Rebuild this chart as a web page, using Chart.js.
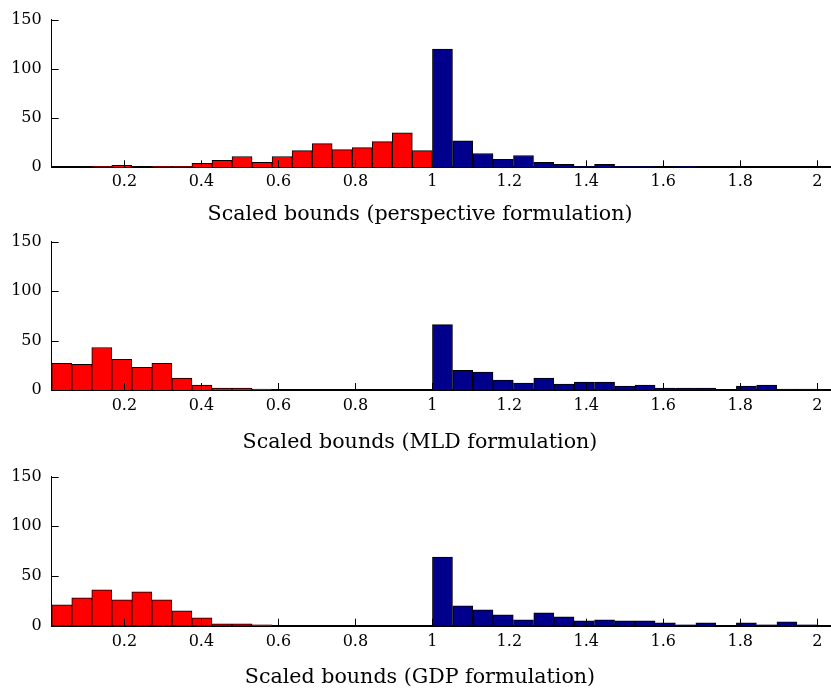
<!DOCTYPE html>
<html><head><meta charset="utf-8">
<script src="https://cdn.jsdelivr.net/npm/chart.js@4"></script>
<style>
html,body{margin:0;padding:0;background:#fff;}
#wrap{position:relative;width:831px;height:695px;overflow:hidden;}
canvas{position:absolute;left:0;}
</style></head><body><div id="wrap">
<canvas id="c1"></canvas><canvas id="c2"></canvas><canvas id="c3"></canvas>
</div>
<script>
// Bin centres (values below 1 and values from 1 up)
const redBinCenters = [0.0372, 0.0893, 0.1413, 0.1933, 0.2454, 0.2974, 0.3495, 0.4015, 0.4536, 0.5056,
                       0.5576, 0.6097, 0.6617, 0.7138, 0.7658, 0.8179, 0.8699, 0.9220, 0.9740];
const blueBinCenters = [1.0263, 1.0789, 1.1316, 1.1842, 1.2368, 1.2895, 1.3421, 1.3947, 1.4474, 1.5000,
                        1.5526, 1.6053, 1.6579, 1.7105, 1.7632, 1.8158, 1.8684, 1.9211, 1.9737];
const xTickValues = [0.2, 0.4, 0.6, 0.8, 1, 1.2, 1.4, 1.6, 1.8, 2];
const yTickValues = [0, 50, 100, 150];
const xMin = 0.0112, xMax = 2.0356;

// Counts per bin
const perspectiveRed  = [0, 0, 1, 2, 0, 1, 1, 4, 7, 11, 5, 11, 17, 24, 18, 20, 26, 35, 17];
const perspectiveBlue = [120, 27, 14, 8, 12, 5, 3, 1, 3, 1, 1, 0, 1, 0, 0, 0, 0, 0, 0];
const mldRed  = [27, 26, 43, 31, 23, 27, 12, 5, 2, 2, 1, 0, 0, 0, 0, 0, 0, 0, 0];
const mldBlue = [66, 20, 18, 10, 7, 12, 6, 8, 8, 4, 5, 2, 2, 2, 0, 4, 5, 1, 1];
const gdpRed  = [21, 28, 36, 26, 34, 26, 15, 8, 2, 2, 1, 0, 0, 0, 0, 0, 0, 0, 0];
const gdpBlue = [69, 20, 16, 11, 6, 13, 9, 5, 6, 5, 5, 3, 1, 3, 0, 3, 1, 4, 1];

const titles = ['Scaled bounds (perspective formulation)',
                'Scaled bounds (MLD formulation)',
                'Scaled bounds (GDP formulation)'];

const FONT = "'DejaVu Serif', serif";
const TICK_SIZE = 16;
const TITLE_SIZE = 20.6;
const TITLE_LH = TITLE_SIZE * 1.2;
const PAD_LEFT = 9;
const AXIS_LEFT = 51.7;

const inwardTicks = {
  id: 'inwardTicks',
  afterDatasetsDraw(chart) {
    const {ctx, chartArea: a, scales: {x, y}} = chart;
    ctx.save();
    ctx.strokeStyle = '#000';
    ctx.lineWidth = 1;
    ctx.beginPath();
    x.ticks.forEach(t => {
      const px = Math.round(x.getPixelForValue(t.value)) + 0.5;
      ctx.moveTo(px, a.bottom); ctx.lineTo(px, a.bottom - 7);
    });
    y.ticks.forEach(t => {
      const py = Math.round(y.getPixelForValue(t.value)) + 0.5;
      ctx.moveTo(a.left, py); ctx.lineTo(a.left + 7, py);
    });
    ctx.stroke();
    ctx.restore();
  }
};

// layout: canvas top, canvas height, plot top, plot bottom, title centre, tick padding
function makePanel(id, T, H, plotTop, plotBottom, titleCenter, tickPad, red, blue, title) {
  const cv = document.getElementById(id);
  cv.width = 831; cv.height = H;
  cv.style.top = T + 'px';
  cv.style.width = '831px'; cv.style.height = H + 'px';
  const padTop = plotTop - T;
  const axisH = titleCenter - TITLE_LH / 2 - plotBottom;
  const padBottom = T + H - (titleCenter + TITLE_LH / 2);
  const ds = (centers, counts, color) => ({
    data: centers.map((c, i) => ({x: c, y: counts[i]})),
    backgroundColor: color, borderColor: '#000', borderWidth: 1,
    grouped: false, barPercentage: 1, categoryPercentage: 1
  });
  new Chart(cv, {
    type: 'bar',
    data: {datasets: [ds(redBinCenters, red, '#FF0000'), ds(blueBinCenters, blue, '#00008C')]},
    options: {
      responsive: false, animation: false, devicePixelRatio: 1,
      layout: {padding: {top: padTop, left: PAD_LEFT, right: 0, bottom: padBottom}},
      plugins: {
        legend: {display: false}, tooltip: {enabled: false},
        title: {display: true, position: 'bottom', text: title, color: '#000',
                font: {family: FONT, size: TITLE_SIZE, weight: 'normal', lineHeight: 1.2}, padding: 0}
      },
      scales: {
        x: {
          type: 'linear', min: xMin, max: xMax, offset: false,
          grid: {display: false, drawTicks: false},
          border: {display: true, color: '#000', width: 2},
          afterBuildTicks: s => { s.ticks = xTickValues.map(v => ({value: v})); },
          afterFit: s => { s.height = axisH; },
          ticks: {color: '#000', font: {family: FONT, size: TICK_SIZE}, padding: tickPad,
                  maxRotation: 0, autoSkip: false, callback: v => String(v)}
        },
        y: {
          min: 0, max: 150,
          grid: {display: false, drawTicks: false},
          border: {display: true, color: '#000', width: 1},
          afterBuildTicks: s => { s.ticks = yTickValues.map(v => ({value: v})); },
          afterFit: s => { s.width = AXIS_LEFT - PAD_LEFT; },
          ticks: {color: '#000', font: {family: FONT, size: TICK_SIZE}, padding: 10}
        }
      }
    },
    plugins: [inwardTicks]
  });
}

makePanel('c1', 0, 228, 13.3, 167.3, 215, 4.5, perspectiveRed, perspectiveBlue, titles[0]);
makePanel('c2', 222, 234, 235.7, 390, 442.7, 6.5, mldRed, mldBlue, titles[1]);
makePanel('c3', 457, 234, 471, 625.7, 678, 6.5, gdpRed, gdpBlue, titles[2]);
</script></body></html>
